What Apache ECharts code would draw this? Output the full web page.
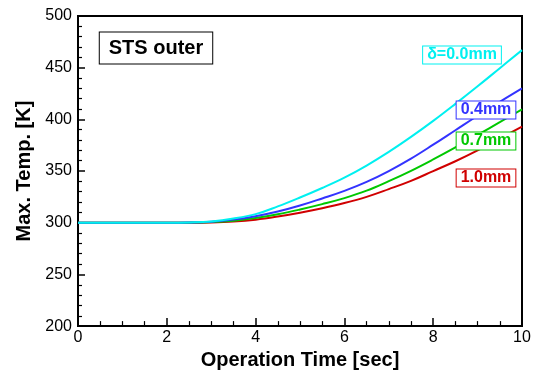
<!DOCTYPE html>
<html lang="en">
<head>
    <meta charset="UTF-8">
    <script src="https://cdn.jsdelivr.net/npm/echarts@6/dist/echarts.min.js"></script>
    <style>
        html, body { margin: 0; padding: 0; background: #fff; }
        #pic { width: 534px; height: 375px; }
    </style>
    <title>STS outer</title>
</head>
<body>
<div id="pic"></div>
<script type="text/javascript">
    // operation time [sec]
    var times = [0, 0.5, 1, 1.5, 2, 2.5, 3, 3.5, 4, 4.5, 5, 5.5, 6, 6.5, 7, 7.5, 8, 8.5, 9, 9.5, 10];
    // max temperature [K] for each gap
    var temp00 = [300, 300, 300, 300, 300, 300.3, 301.3, 304, 308.3, 315.8, 324.4, 333.6, 343.6, 355.3, 368.5, 383, 398.5, 415, 432, 449.5, 467];
    var temp04 = [300, 300, 300, 300, 300, 300.2, 301, 303, 306.3, 310.8, 316.6, 323.5, 330.8, 339.5, 350, 362, 375.5, 389.5, 403.5, 417, 430];
    var temp07 = [300, 300, 300, 300, 300, 300.1, 300.6, 302, 304.6, 308.2, 312.8, 318, 323.8, 331, 340.2, 350.2, 361.2, 372.8, 385, 397.3, 409.7];
    var temp10 = [300, 300, 300, 300, 300, 300, 300.3, 301.2, 303, 306, 309.7, 314, 319, 325, 332.5, 340.5, 350, 359.5, 370, 381.5, 393];
    var names = ['\u03b4=0.0mm', '0.4mm', '0.7mm', '1.0mm'];
    var colors = ['#00f0f0', '#3333ff', '#00c800', '#d00000'];
    var xTicks = [0, 2, 4, 6, 8, 10];
    var yTicks = [200, 250, 300, 350, 400, 450, 500];

    var fontFam = 'Arial, "Liberation Sans", sans-serif';

    function pairs(ys) {
        var out = [];
        for (var i = 0; i < times.length; i++) {
            out.push([times[i], ys[i]]);
        }
        return out;
    }

    function boxLabel(txt, cx, cy, color) {
        return {
            type: 'text',
            x: cx,
            y: cy,
            z: 100,
            style: {
                text: txt,
                font: 'bold 16px ' + fontFam,
                fill: color,
                align: 'center',
                verticalAlign: 'middle',
                backgroundColor: '#fff',
                borderColor: color,
                borderWidth: 1,
                padding: [1, 4, 0, 4]
            }
        };
    }

    var allData = [temp00, temp04, temp07, temp10];
    var series = [];
    // draw the lowest curve first so the cyan one is on top
    for (var k = allData.length - 1; k >= 0; k--) {
        series.push({
            name: names[k],
            type: 'line',
            data: pairs(allData[k]),
            smooth: 0.4,
            showSymbol: false,
            lineStyle: { color: colors[k], width: 2 },
            itemStyle: { color: colors[k] }
        });
    }

    var myChart = echarts.init(document.getElementById('pic'));
    var option = {
        animation: false,
        backgroundColor: '#fff',
        grid: {
            left: 78, right: 12, top: 16, bottom: 39,
            show: true, borderColor: '#000', borderWidth: 2
        },
        xAxis: {
            type: 'value',
            min: xTicks[0],
            max: xTicks[xTicks.length - 1],
            interval: 2,
            name: 'Operation Time [sec]',
            nameLocation: 'middle',
            nameGap: 18,
            nameTextStyle: { fontFamily: fontFam, fontWeight: 'bold', fontSize: 20, color: '#000' },
            axisLine: { lineStyle: { color: '#000', width: 2 } },
            axisTick: { inside: true, length: 8, lineStyle: { color: '#000', width: 1.5 } },
            minorTick: { show: true, splitNumber: 4, length: 5, lineStyle: { color: '#000', width: 1.2 } },
            splitLine: { show: false },
            axisLabel: { fontFamily: fontFam, fontSize: 16, color: '#000', margin: 3 }
        },
        yAxis: {
            type: 'value',
            min: yTicks[0],
            max: yTicks[yTicks.length - 1],
            interval: 50,
            name: 'Max. Temp. [K]',
            nameLocation: 'middle',
            nameGap: 43,
            nameTextStyle: { fontFamily: fontFam, fontWeight: 'bold', fontSize: 20, color: '#000' },
            axisLine: { lineStyle: { color: '#000', width: 2 } },
            axisTick: { inside: true, length: 7, lineStyle: { color: '#000', width: 1.5 } },
            minorTick: { show: true, splitNumber: 5, length: 4, lineStyle: { color: '#000', width: 1.2 } },
            splitLine: { show: false },
            axisLabel: { fontFamily: fontFam, fontSize: 16, color: '#000', margin: 6 }
        },
        graphic: [
            {
                type: 'text',
                x: 156, y: 48, z: 100,
                style: {
                    text: 'STS outer',
                    font: 'bold 20px ' + fontFam,
                    fill: '#000',
                    align: 'center',
                    verticalAlign: 'middle',
                    backgroundColor: '#fff',
                    borderColor: '#000',
                    borderWidth: 1,
                    padding: [6, 9, 5, 9]
                }
            },
            boxLabel(names[0], 462, 55, colors[0]),
            boxLabel(names[1], 486, 110, colors[1]),
            boxLabel(names[2], 486, 141, colors[2]),
            boxLabel(names[3], 486, 178, colors[3])
        ],
        series: series
    };
    option && myChart.setOption(option);
</script>
</body>
</html>
